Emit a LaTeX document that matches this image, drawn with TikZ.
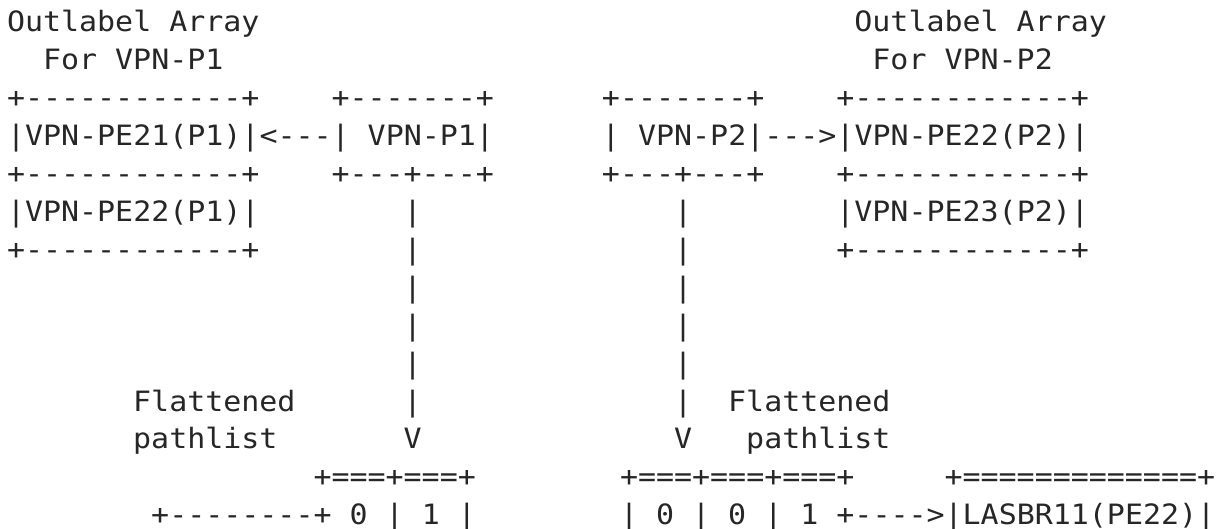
\documentclass[tikz,border=0pt]{standalone}
\usepackage{fontspec}
\usepackage{graphicx}
\setmonofont{DejaVu Sans Mono}
% character grid: column pitch, row pitch, first baseline, left edge
\newcommand\colw{18.03}
\newcommand\rowh{37.9}
\newcommand\hstretch{1.07}
\newcommand\glyphrow[4]{%
  \node[cell] (#1) at ({7+\colw*#2},{-(32+\rowh*(#3-1))}) {\scalebox{\hstretch}[1]{#4}};}
\tikzset{cell/.style={anchor=base west, inner sep=0pt, outer sep=0pt,
  font=\ttfamily\fontsize{28}{28}\selectfont, text=black!85}}
\begin{document}
\begin{tikzpicture}[x=1pt,y=1pt]
\useasboundingbox[fill=white] (0,0) rectangle (1223,-529);
% headings
\glyphrow{hdA}{0}{1}{Outlabel Array}
\glyphrow{hdB}{47}{1}{Outlabel Array}
\glyphrow{forA}{2}{2}{For VPN-P1}
\glyphrow{forB}{48}{2}{For VPN-P2}
% outlabel arrays and VPN boxes
\glyphrow{r3a}{0}{3}{+------------+}
\glyphrow{r3b}{18}{3}{+-------+}
\glyphrow{r3c}{33}{3}{+-------+}
\glyphrow{r3d}{46}{3}{+------------+}
\glyphrow{r4a}{0}{4}{|VPN-PE21(P1)|<---| VPN-P1|}
\glyphrow{r4b}{33}{4}{| VPN-P2|--->|VPN-PE22(P2)|}
\glyphrow{r5a}{0}{5}{+------------+}
\glyphrow{r5b}{18}{5}{+---+---+}
\glyphrow{r5c}{33}{5}{+---+---+}
\glyphrow{r5d}{46}{5}{+------------+}
\glyphrow{r6a}{0}{6}{|VPN-PE22(P1)|}
\glyphrow{r6b}{22}{6}{|}
\glyphrow{r6c}{37}{6}{|}
\glyphrow{r6d}{46}{6}{|VPN-PE23(P2)|}
\glyphrow{r7a}{0}{7}{+------------+}
\glyphrow{r7b}{22}{7}{|}
\glyphrow{r7c}{37}{7}{|}
\glyphrow{r7d}{46}{7}{+------------+}
% vertical links
\foreach \r in {8,9,10}{
  \glyphrow{vl\r}{22}{\r}{|}
  \glyphrow{vr\r}{37}{\r}{|}
}
\glyphrow{r11a}{7}{11}{Flattened}
\glyphrow{r11b}{22}{11}{|}
\glyphrow{r11c}{37}{11}{|}
\glyphrow{r11d}{40}{11}{Flattened}
\glyphrow{r12a}{7}{12}{pathlist}
\glyphrow{r12b}{22}{12}{V}
\glyphrow{r12c}{37}{12}{V}
\glyphrow{r12d}{41}{12}{pathlist}
% flattened pathlists
\glyphrow{r13a}{17}{13}{+===+===+}
\glyphrow{r13b}{34}{13}{+===+===+===+}
\glyphrow{r13c}{52}{13}{+=============+}
\glyphrow{r14a}{8}{14}{+--------+ 0 | 1 |}
\glyphrow{r14b}{34}{14}{| 0 | 0 | 1 +---->|LASBR11(PE22)|}
\end{tikzpicture}
\end{document}
